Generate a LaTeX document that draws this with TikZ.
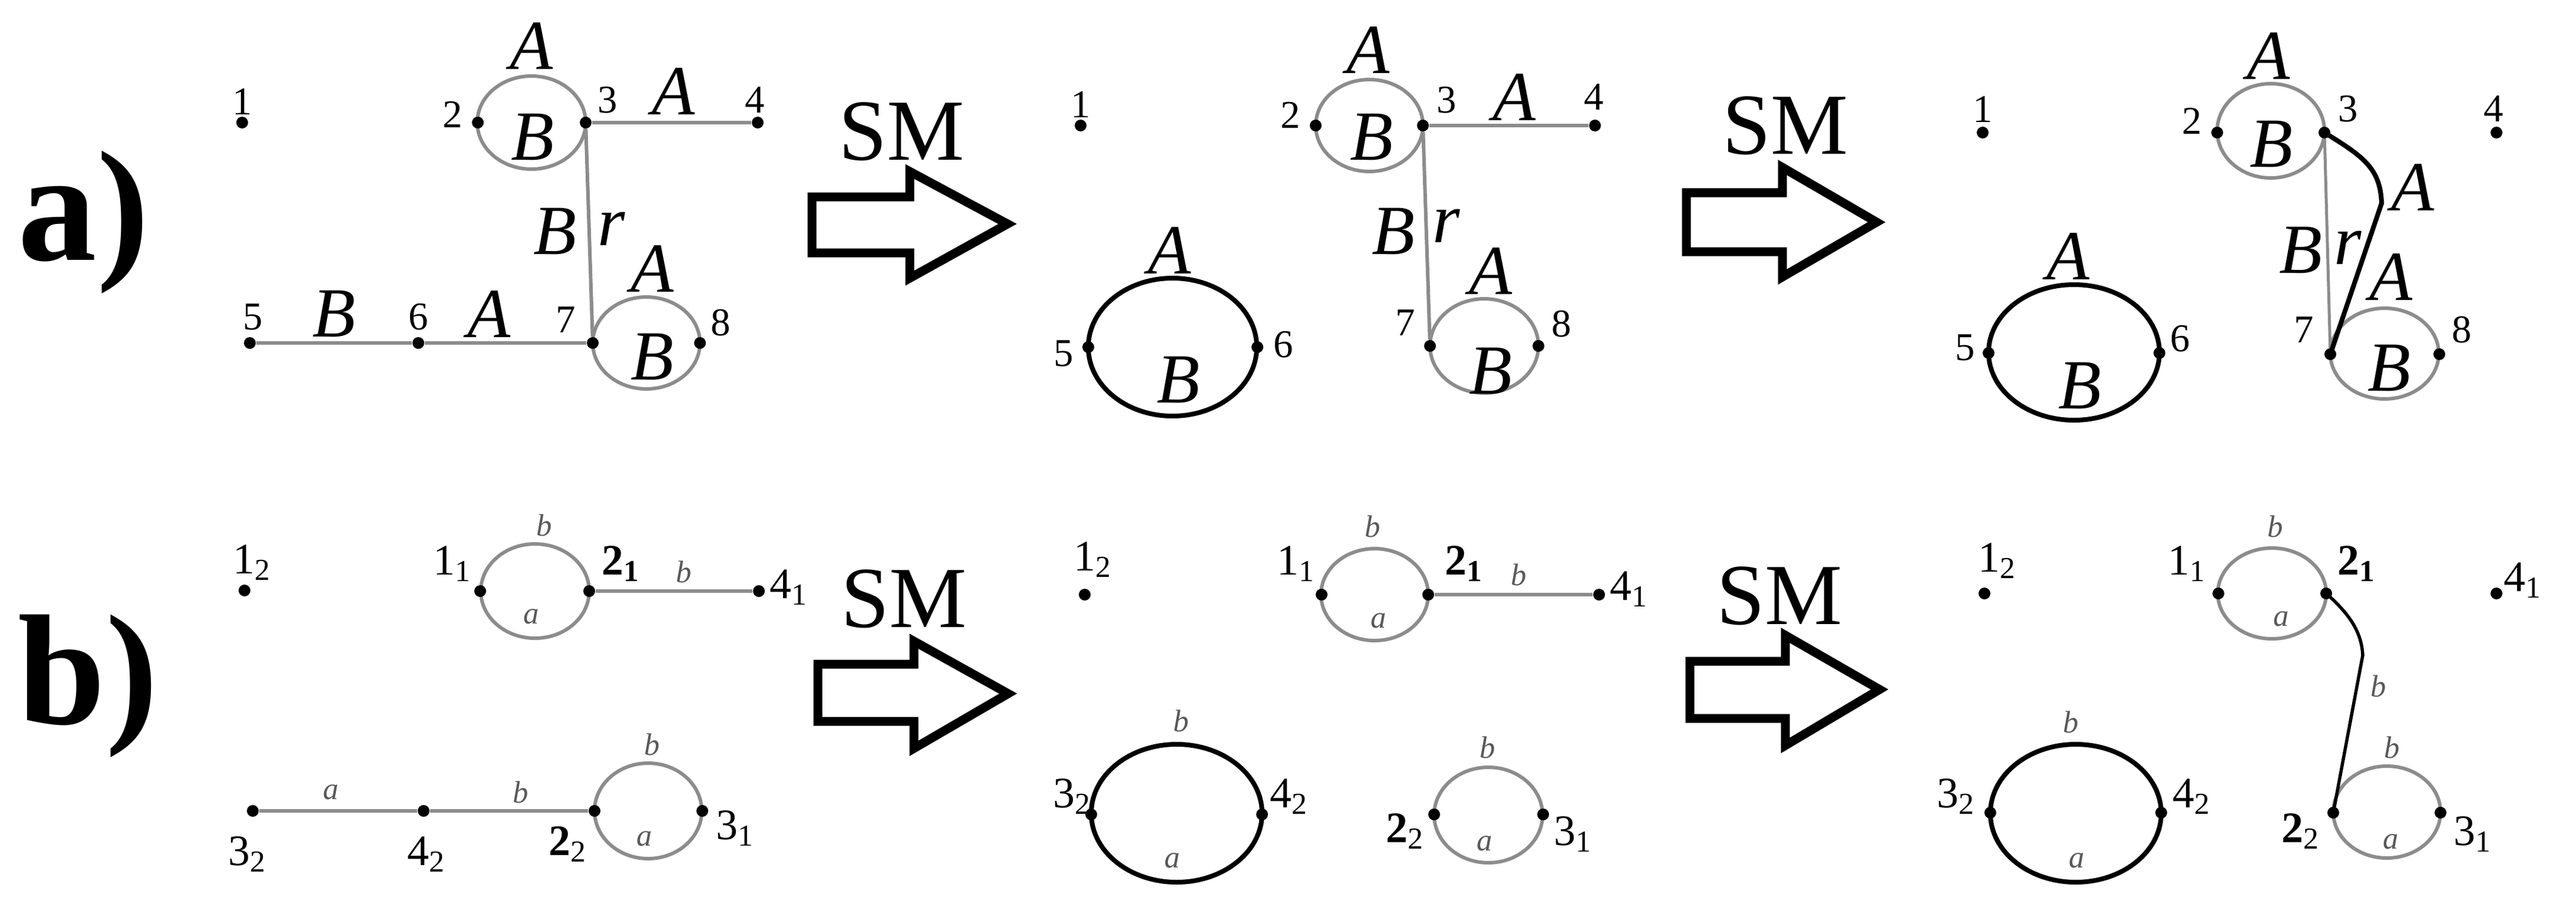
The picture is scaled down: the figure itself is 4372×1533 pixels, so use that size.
\documentclass[tikz,border=0pt]{standalone}
\usepackage{fontspec}
\setmainfont{Liberation Serif}
\begin{document}
\begin{tikzpicture}[x=0.01cm,y=-0.01cm,
  dot/.style={circle,fill=black,inner sep=0,minimum size=0.2cm},
  num/.style={font=\fontsize{19}{19}\selectfont,inner sep=0},
  snum/.style={font=\fontsize{21}{21}\selectfont,inner sep=0},
  AB/.style={font=\fontsize{34}{34}\selectfont\itshape,inner sep=0},
  ab/.style={font=\fontsize{15}{15}\selectfont\itshape,text=black!65,inner sep=0},
  smtext/.style={font=\fontsize{42}{42}\selectfont,inner sep=0},
  big/.style={font=\fontsize{76}{76}\selectfont\bfseries,inner sep=0,anchor=base west},
  gedge/.style={draw=black!45,line width=0.06cm},
  bedge/.style={draw=black,line width=0.08cm},
  fatarrow/.style={draw=black,line width=0.15cm,fill=white,line join=miter}]
\useasboundingbox (0,0) rectangle (4372,1533);
% panel letters
\node[big] (la) at (30,441) {a)};
\node[big] (lb) at (30,1228) {b)};
% SM arrows
\draw[fatarrow] (1378,334) -- (1544,334) -- (1544,291) -- (1710,380) -- (1544,472) -- (1544,429) -- (1378,429) -- cycle;
\node[smtext] (sm1) at (1530,223) {SM};
\draw[fatarrow] (2862,327) -- (3025,327) -- (3025,284) -- (3185,377) -- (3025,470) -- (3025,427) -- (2862,427) -- cycle;
\node[smtext] (sm2) at (3030,213) {SM};
\draw[fatarrow] (1388,1127) -- (1551,1127) -- (1551,1088) -- (1711,1177) -- (1551,1270) -- (1551,1224) -- (1388,1224) -- cycle;
\node[smtext] (sm3) at (1534,1016) {SM};
\draw[fatarrow] (2868,1122) -- (3030,1122) -- (3030,1078) -- (3190,1170) -- (3030,1265) -- (3030,1219) -- (2868,1219) -- cycle;
\node[smtext] (sm4) at (3020,1011) {SM};

% ===== panel a1 =====
\draw[gedge] (902,208) ellipse [x radius=92,y radius=79];
\draw[gedge] (1097,582) ellipse [x radius=91,y radius=78];
\node[dot] (a1n1) at (411,208) {};
\node[dot] (a1n2) at (811,208) {};
\node[dot] (a1n3) at (994,208) {};
\node[dot] (a1n4) at (1286,208) {};
\node[dot] (a1n5) at (424,582) {};
\node[dot] (a1n6) at (710,582) {};
\node[dot] (a1n7) at (1006,582) {};
\node[dot] (a1n8) at (1188,582) {};
\draw[gedge] (a1n3) -- (a1n4);
\draw[gedge] (a1n3) -- (a1n7);
\draw[gedge] (a1n5) -- (a1n6) -- (a1n7);
\node[num] at (411,172) {1};
\node[num] at (768,194) {2};
\node[num] at (1031,170) {3};
\node[num] at (1281,170) {4};
\node[num] at (429,538) {5};
\node[num] at (710,538) {6};
\node[num] at (960,543) {7};
\node[num] at (1223,548) {8};
\node[AB] at (902,78) {A};
\node[AB] at (904,233) {B};
\node[AB] at (1143,155) {A};
\node[AB] at (942,393) {B};
\node[AB] at (1038,388) {r};
\node[AB] at (567,533) {B};
\node[AB] at (830,533) {A};
\node[AB] at (1107,456) {A};
\node[AB] at (1107,606) {B};

% ===== panel a2 =====
\draw[gedge] (2324,213) ellipse [x radius=91,y radius=78];
\draw[bedge] (1990,589) ellipse [x radius=143,y radius=117];
\draw[gedge] (2519,587) ellipse [x radius=92,y radius=80];
\node[dot] (a2n1) at (1834,213) {};
\node[dot] (a2n2) at (2233,213) {};
\node[dot] (a2n3) at (2415,213) {};
\node[dot] (a2n4) at (2707,213) {};
\node[dot] (a2n5) at (1847,589) {};
\node[dot] (a2n6) at (2134,589) {};
\node[dot] (a2n7) at (2427,587) {};
\node[dot] (a2n8) at (2611,587) {};
\draw[gedge] (a2n3) -- (a2n4);
\draw[gedge] (a2n3) -- (a2n7);
\node[num] at (1834,177) {1};
\node[num] at (2190,195) {2};
\node[num] at (2455,170) {3};
\node[num] at (2705,165) {4};
\node[num] at (1805,600) {5};
\node[num] at (2178,585) {6};
\node[num] at (2385,548) {7};
\node[num] at (2650,550) {8};
\node[AB] at (2322,85) {A};
\node[AB] at (2328,233) {B};
\node[AB] at (2570,165) {A};
\node[AB] at (2365,393) {B};
\node[AB] at (2455,383) {r};
\node[AB] at (1985,425) {A};
\node[AB] at (2000,645) {B};
\node[AB] at (2530,460) {A};
\node[AB] at (2530,630) {B};

% ===== panel a3 =====
\draw[gedge] (3854,222) ellipse [x radius=91,y radius=80];
\draw[bedge] (3520,598) ellipse [x radius=145,y radius=115];
\draw[gedge] (4047,600) ellipse [x radius=92,y radius=77];
\node[dot] (a3n1) at (3365,225) {};
\node[dot] (a3n2) at (3763,225) {};
\node[dot] (a3n3) at (3945,225) {};
\node[dot] (a3n4) at (4237,225) {};
\node[dot] (a3n5) at (3375,599) {};
\node[dot] (a3n6) at (3665,599) {};
\node[dot] (a3n7) at (3955,601) {};
\node[dot] (a3n8) at (4140,601) {};
\coordinate (a3bend) at (4042,345);
\draw[gedge,line width=0.05cm] (a3n3) -- (a3n7);
\draw[bedge] (a3n3.center) .. controls (4010,265) and (4040,285) .. (a3bend) -- (a3n7.center);
\node[num] at (3365,185) {1};
\node[num] at (3720,205) {2};
\node[num] at (3985,185) {3};
\node[num] at (4232,185) {4};
\node[num] at (3335,590) {5};
\node[num] at (3700,575) {6};
\node[num] at (3910,560) {7};
\node[num] at (4178,560) {8};
\node[AB] at (3850,95) {A};
\node[AB] at (3855,245) {B};
\node[AB] at (4095,318) {A};
\node[AB] at (3905,425) {B};
\node[AB] at (3985,420) {r};
\node[AB] at (3510,435) {A};
\node[AB] at (3530,655) {B};
\node[AB] at (4058,470) {A};
\node[AB] at (4055,625) {B};

% ===== panel b1 =====
\draw[gedge] (908,1003) ellipse [x radius=92,y radius=80];
\draw[gedge] (1100,1376) ellipse [x radius=91,y radius=81];
\node[dot] (b1n12) at (415,1002) {};
\node[dot] (b1n11) at (815,1003) {};
\node[dot] (b1n21) at (1000,1003) {};
\node[dot] (b1n41) at (1288,1003) {};
\node[dot] (b1n32) at (429,1376) {};
\node[dot] (b1n42) at (719,1376) {};
\node[dot] (b1n22) at (1009,1376) {};
\node[dot] (b1n31) at (1192,1376) {};
\draw[gedge] (b1n21) -- (b1n41);
\draw[gedge] (b1n32) -- (b1n42) -- (b1n22);
\node[snum] at (428,955) {1\textsubscript{2}};
\node[snum] at (768,957) {1\textsubscript{1}};
\node[snum] at (1054,957) {\textbf{2\textsubscript{1}}};
\node[snum] at (1339,997) {4\textsubscript{1}};
\node[snum] at (420,1450) {3\textsubscript{2}};
\node[snum] at (724,1450) {4\textsubscript{2}};
\node[snum] at (964,1433) {\textbf{2}\textsubscript{2}};
\node[snum] at (1248,1406) {3\textsubscript{1}};
\node[ab] at (924,891) {b};
\node[ab] at (902,1046) {a};
\node[ab] at (1161,970) {b};
\node[ab] at (562,1344) {a};
\node[ab] at (884,1344) {b};
\node[ab] at (1107,1263) {b};
\node[ab] at (1094,1423) {a};

% ===== panel b2 =====
\draw[gedge] (2333,1009) ellipse [x radius=91,y radius=78];
\draw[bedge] (1997,1380) ellipse [x radius=145,y radius=117];
\draw[gedge] (2526,1383) ellipse [x radius=92,y radius=81];
\node[dot] (b2n12) at (1841,1009) {};
\node[dot] (b2n11) at (2243,1009) {};
\node[dot] (b2n21) at (2424,1009) {};
\node[dot] (b2n41) at (2714,1009) {};
\node[dot] (b2n32) at (1852,1382) {};
\node[dot] (b2n42) at (2142,1382) {};
\node[dot] (b2n22) at (2434,1382) {};
\node[dot] (b2n31) at (2619,1382) {};
\draw[gedge] (b2n21) -- (b2n41);
\node[snum] at (1855,950) {1\textsubscript{2}};
\node[snum] at (2200,957) {1\textsubscript{1}};
\node[snum] at (2485,957) {\textbf{2\textsubscript{1}}};
\node[snum] at (2765,1000) {4\textsubscript{1}};
\node[snum] at (1820,1352) {3\textsubscript{2}};
\node[snum] at (2188,1352) {4\textsubscript{2}};
\node[snum] at (2385,1411) {\textbf{2}\textsubscript{2}};
\node[snum] at (2670,1416) {3\textsubscript{1}};
\node[ab] at (2330,893) {b};
\node[ab] at (2340,1053) {a};
\node[ab] at (2578,975) {b};
\node[ab] at (2005,1223) {b};
\node[ab] at (1990,1460) {a};
\node[ab] at (2525,1268) {b};
\node[ab] at (2520,1431) {a};

% ===== panel b3 =====
\draw[gedge] (3856,1007) ellipse [x radius=92,y radius=77];
\draw[bedge] (3523,1380) ellipse [x radius=145,y radius=117];
\draw[gedge] (4051,1378) ellipse [x radius=91,y radius=78];
\node[dot] (b3n12) at (3368,1007) {};
\node[dot] (b3n11) at (3765,1007) {};
\node[dot] (b3n21) at (3948,1007) {};
\node[dot] (b3n41) at (4237,1007) {};
\node[dot] (b3n32) at (3378,1379) {};
\node[dot] (b3n42) at (3668,1379) {};
\node[dot] (b3n22) at (3960,1379) {};
\node[dot] (b3n31) at (4142,1379) {};
\coordinate (b3bend) at (4010,1112);
\draw[draw=black,line width=0.055cm] (b3n21.center) .. controls (3985,1040) and (4008,1070) .. (b3bend) -- (b3n22.center);
\node[snum] at (3390,952) {1\textsubscript{2}};
\node[snum] at (3712,957) {1\textsubscript{1}};
\node[snum] at (4000,957) {\textbf{2\textsubscript{1}}};
\node[snum] at (4282,985) {4\textsubscript{1}};
\node[snum] at (3320,1352) {3\textsubscript{2}};
\node[snum] at (3720,1352) {4\textsubscript{2}};
\node[snum] at (3905,1411) {\textbf{2}\textsubscript{2}};
\node[snum] at (4197,1416) {3\textsubscript{1}};
\node[ab] at (3862,893) {b};
\node[ab] at (3872,1050) {a};
\node[ab] at (4037,1164) {b};
\node[ab] at (3515,1225) {b};
\node[ab] at (3525,1460) {a};
\node[ab] at (4060,1268) {b};
\node[ab] at (4058,1428) {a};
\end{tikzpicture}
\end{document}
